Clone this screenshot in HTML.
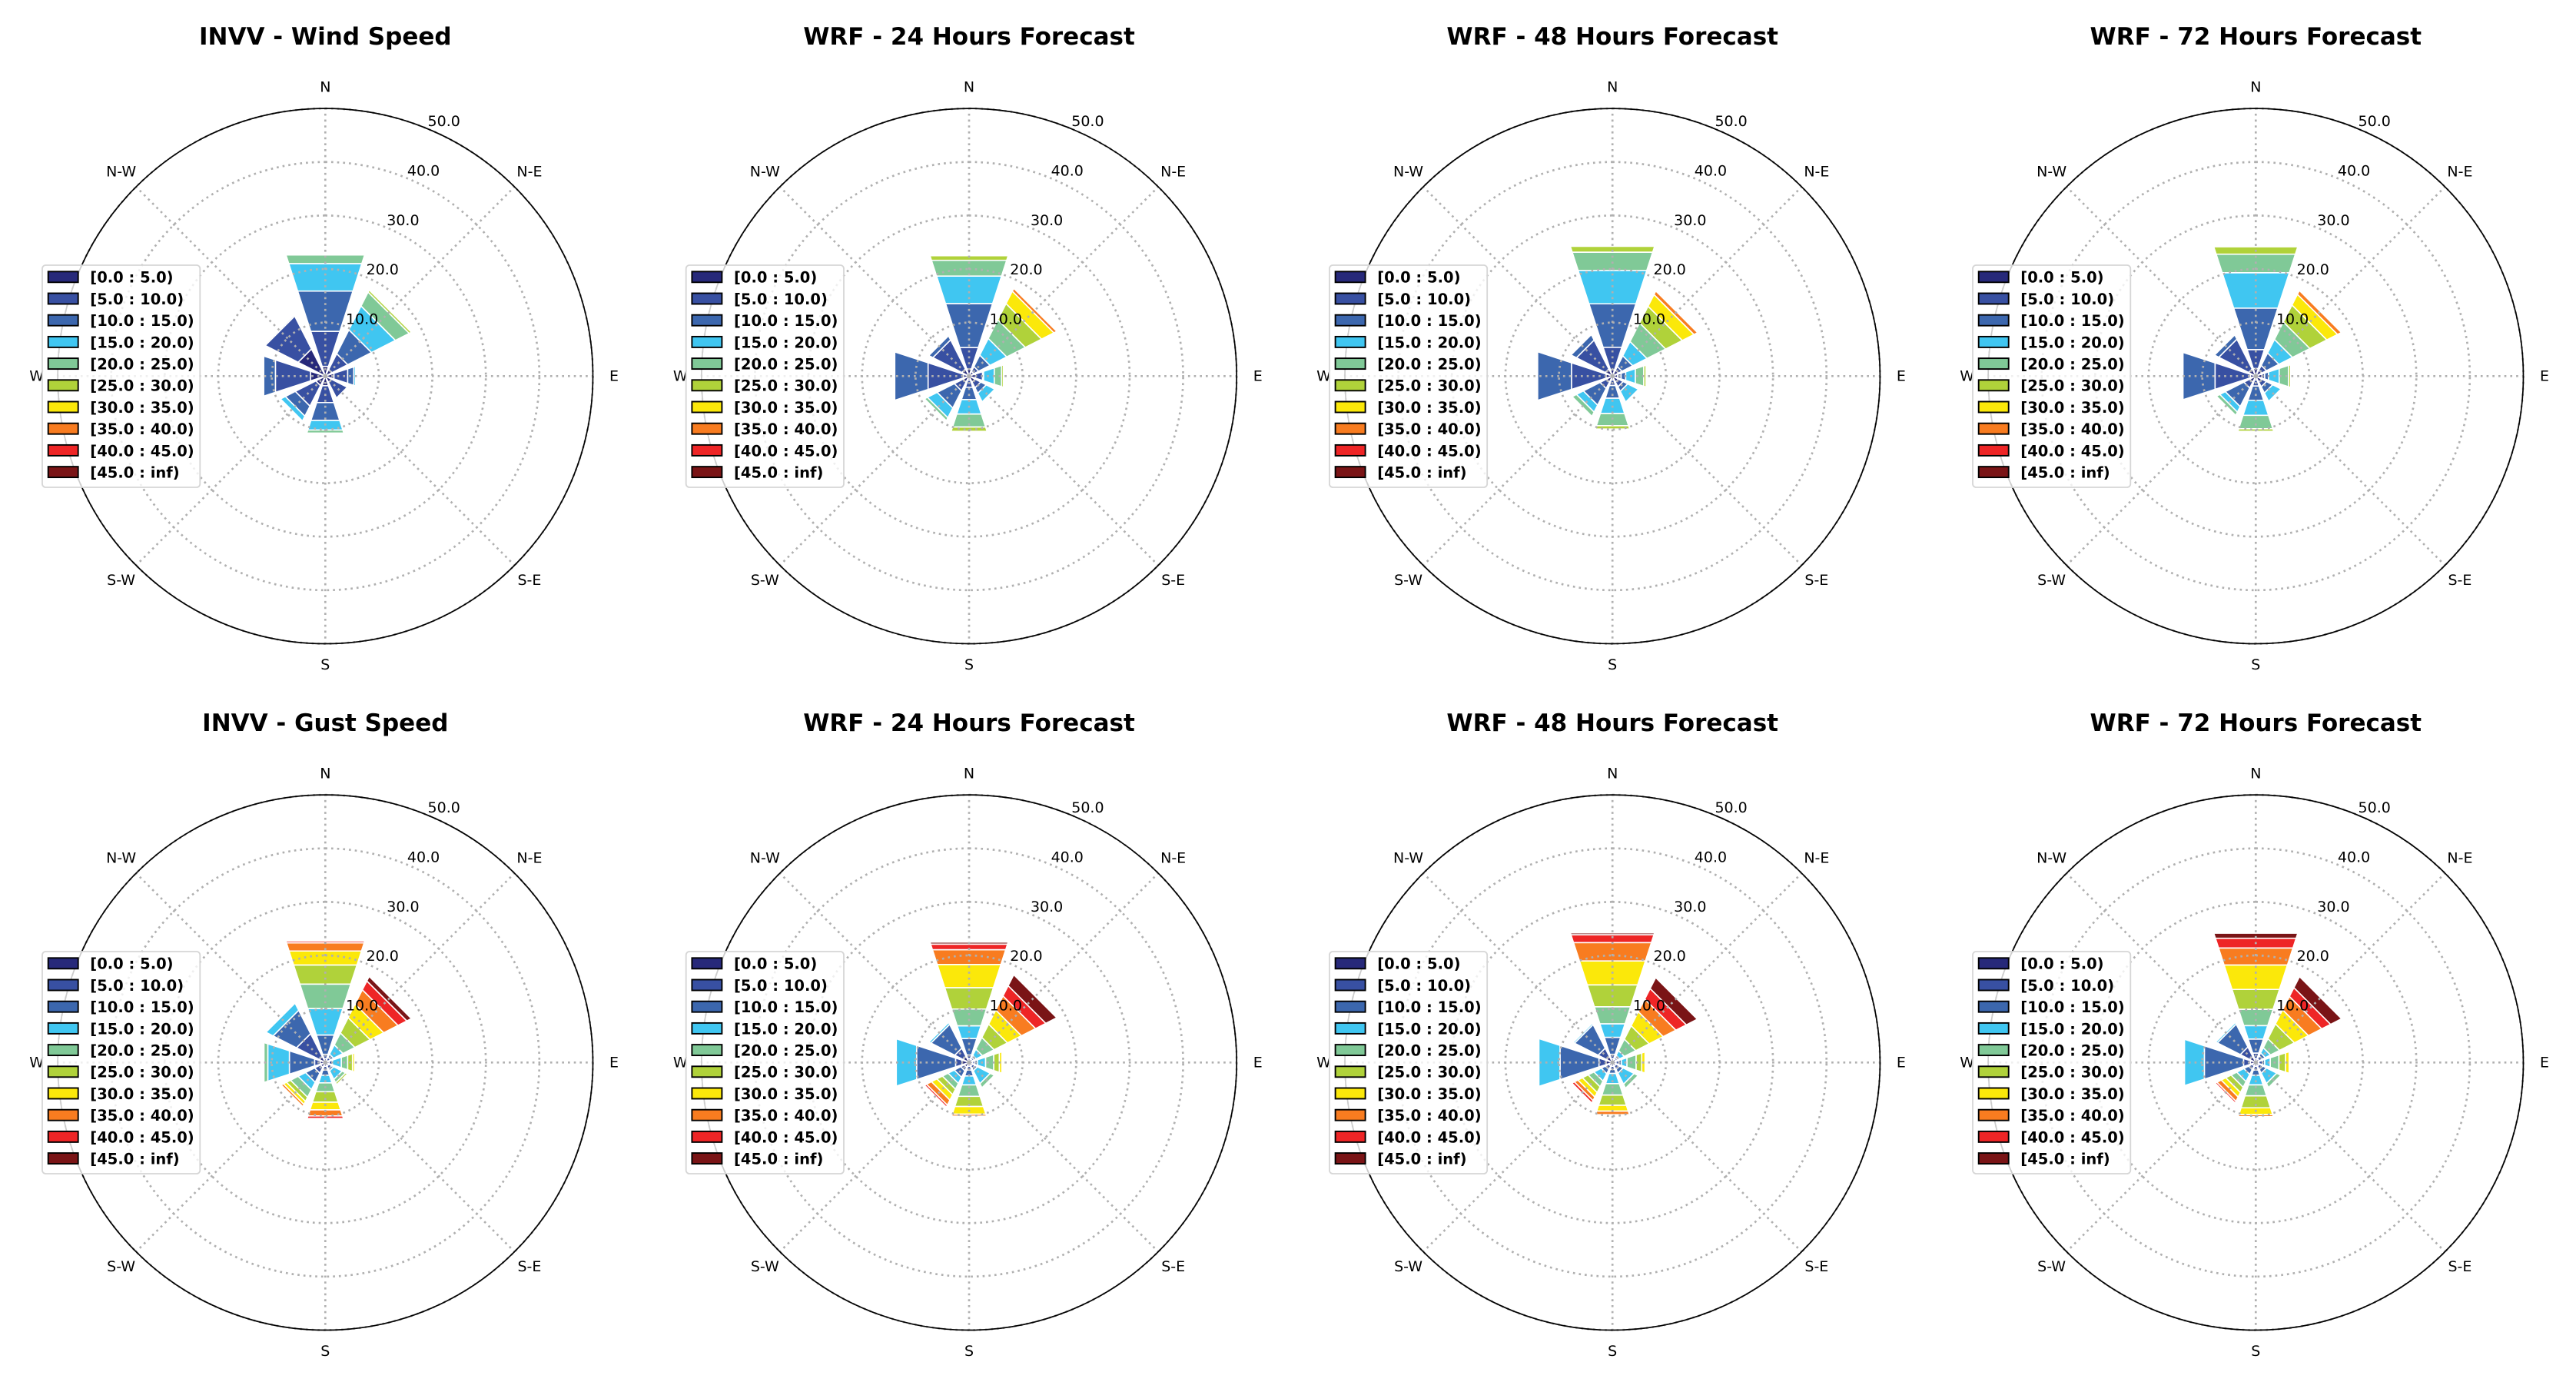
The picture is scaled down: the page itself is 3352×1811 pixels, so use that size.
<!DOCTYPE html>
<html lang="en">
<head>
<meta charset="utf-8">
<title>Wind roses</title>
<style>
html,body{margin:0;padding:0;background:#fff;}
#figure{position:absolute;left:0;top:0;display:block;}
text{font-family:"DejaVu Sans","Liberation Sans",sans-serif;fill:#000;}
</style>
</head>
<body>
<svg id="figure" xmlns="http://www.w3.org/2000/svg" width="3352" height="1811" viewBox="0 0 3352 1811">
<rect x="0" y="0" width="3352" height="1811" fill="#fff"></rect>
</svg>
<script>
// Categories
const directions = ['N','N-E','E','S-E','S','S-W','W','N-W'];
const speedBins = ['[0.0 : 5.0)','[5.0 : 10.0)','[10.0 : 15.0)','[15.0 : 20.0)','[20.0 : 25.0)','[25.0 : 30.0)','[30.0 : 35.0)','[35.0 : 40.0)','[40.0 : 45.0)','[45.0 : inf)'];
const binColors = ['#27297a','#3850a2','#3c67ae','#40c6f1','#80c997','#b0d23a','#fbe80a','#f87c20','#ee2526','#7a1416'];
const radialTicks = [10,20,30,40,50];
const panelTitles = ['INVV - Wind Speed','WRF - 24 Hours Forecast','WRF - 48 Hours Forecast','WRF - 72 Hours Forecast','INVV - Gust Speed','WRF - 24 Hours Forecast','WRF - 48 Hours Forecast','WRF - 72 Hours Forecast'];

// Frequency (%) per speed bin, one row per direction (N, N-E, E, S-E, S, S-W, W, N-W)
const invvWind = [
 [1.9,6.9,7.9,5.4,1.7,0.15],
 [1.4,3.3,5.0,5.0,2.9,0.45],
 [1.7,2.7,1.2,0.35],
 [1.3,3.3],
 [1.9,3.3,3.5,1.9,0.6],
 [2.0,4.3,2.1,1.0],
 [2.9,6.9,2.3],
 [5.7,6.9,0.25]
];
const wrf24Wind = [
 [1.4,4.2,8.65,5.4,3.1,0.9],
 [1.0,1.0,2.4,3.5,3.9,3.4,2.6,0.6],
 [1.25,1.4,0.2,2.1,1.45,0.35],
 [1.25,1.2,1.15,1.8],
 [0.8,1.4,2.4,2.85,2.55,0.85],
 [1.25,1.85,3.6,2.05,0.6],
 [1.1,6.95,6.55],
 [1.5,6.1,0.85]
];
const wrf48Wind = [
 [1.25,4.4,8.55,6.55,3.6,1.15],
 [1.25,0.75,2.25,3.0,3.9,3.5,2.45,0.75],
 [1.0,0.7,0.9,1.9,1.65,0.45],
 [1.25,1.0,0.95,2.25],
 [0.75,1.1,2.5,3.0,2.4,0.65],
 [1.25,1.35,3.5,1.45,0.9],
 [1.25,6.8,6.65],
 [1.5,6.05,1.15]
];
const wrf72Wind = [
 [1.5,3.7,8.15,6.95,3.65,1.45],
 [1.25,1.0,2.6,2.85,3.65,3.55,2.25,0.8],
 [1.2,0.55,0.75,2.1,1.85,0.4],
 [1.25,1.0,1.3,1.75],
 [0.75,1.2,2.8,2.95,2.65,0.5],
 [1.25,1.25,3.9,1.15,0.7],
 [1.05,6.95,6.3],
 [1.5,6.25,0.9]
];
const invvGust = [
 [0.75,0.85,3.8,5.2,4.8,3.75,2.75,1.6,0.35],
 [0.5,0.6,0.65,1.95,2.5,3.2,2.85,3.0,1.85,0.95],
 [0.75,0.65,0,1.75,1.25,0.95,0.4],
 [0.75,0.6,0.4,1.8,0.7,0.4],
 [0.75,0.75,1.0,1.5,1.75,2.05,1.5,1.2,0.5],
 [1.0,1.25,1.9,1.55,1.6,0.85,0.65,0.45],
 [1.0,1.1,4.95,4.25,0.75],
 [1.25,4.8,4.9,1.5]
];
const wrf24Gust = [
 [0.75,0.75,3.2,2.5,3.3,4.2,4.55,2.9,1.1,0.4],
 [0.75,0.35,0.4,1.3,2.45,2.8,2.95,2.95,2.15,2.3],
 [0.7,0.4,0.55,1.6,1.6,1.1,0.5],
 [0.75,0.5,0.5,2.7,0.85],
 [0.75,0.75,1.15,1.75,2.25,2.0,1.5,0.4],
 [1.0,0.75,1.35,1.3,1.2,1.15,1.15,1.05,0.4],
 [1.4,1.25,7.65,4.0],
 [1.25,1.75,5.0,0.4]
];
const wrf48Gust = [
 [0.75,0.85,3.35,2.65,3.35,4.3,4.7,3.6,1.55,0.35],
 [0.75,0.35,0.4,1.0,2.4,2.8,2.95,2.65,2.2,2.3],
 [0.7,0.55,0.5,1.1,1.8,1.1,0.65],
 [0.75,0.75,0.75,2.3,0.85],
 [0.75,0.6,0.8,2.0,2.25,2.0,1.15,0.7],
 [0.75,0.75,0.85,1.55,1.2,1.2,0.95,0.75,0.5],
 [1.25,1.4,7.65,4.15],
 [1.25,1.75,4.95,0.3]
];
const wrf72Gust = [
 [0.75,1.1,2.75,2.65,3.2,3.9,4.8,3.35,1.9,1.0],
 [0.75,0.65,0.6,1.1,1.9,3.1,2.95,2.8,1.85,2.3],
 [0.6,0.7,0.45,1.1,1.7,1.3,0.7],
 [0.75,0.75,0.75,2.15,0.85],
 [0.75,0.75,1.0,1.9,2.15,2.35,1.35,0.4],
 [0.75,0.75,1.0,1.5,1.2,1.1,0.95,0.9,0.35],
 [1.05,1.35,7.7,3.9],
 [1.25,2.0,4.8,0.35]
];
const panelSeries = [invvWind,wrf24Wind,wrf48Wind,wrf72Wind,invvGust,wrf24Gust,wrf48Gust,wrf72Gust];

// Layout
const SVG_NS = 'http://www.w3.org/2000/svg';
const figure = document.getElementById('figure');
const colCentres = [423.3,1261,2098.2,2935.3];
const rowCentres = [489.3,1382.3];
const outerRadius = 348.2;
const rMax = 50;
const barHalfAngle = 18;
const rScale = function(v){ return v / rMax * outerRadius; };
const angleScale = function(i){ return i * 360 / directions.length; };
const polar = function(cx,cy,r,deg){
  const a = deg * Math.PI / 180;
  return [cx + r * Math.sin(a), cy - r * Math.cos(a)];
};
const make = function(tag,parent){
  const el = document.createElementNS(SVG_NS,tag);
  parent.appendChild(el);
  return el;
};

panelTitles.forEach(function(title,p){
  const cx = colCentres[p % 4];
  const cy = rowCentres[Math.floor(p / 4)];
  const series = panelSeries[p];

  const g = make('g',figure);
  
  

  const titleEl = make('text',g);
  
  
  titleEl.setAttribute('x', cx);
  titleEl.setAttribute('y', cy - 431.3);
  titleEl.setAttribute('text-anchor', 'middle');
  titleEl.setAttribute('font-size', '31');
  titleEl.setAttribute('font-weight', 'bold');
  titleEl.textContent = title;

  // stacked bars
  series.forEach(function(bins,d){
    const theta = angleScale(d);
    let cum = 0;
    bins.forEach(function(val,b){
      if(val <= 0){ return; }
      const r1 = rScale(cum);
      cum += val;
      const r2 = rScale(cum);
      const pts = [polar(cx,cy,r1,theta-barHalfAngle),polar(cx,cy,r2,theta-barHalfAngle),polar(cx,cy,r2,theta+barHalfAngle),polar(cx,cy,r1,theta+barHalfAngle)];
      const bar = make('polygon',g);
      
      
      bar.setAttribute('points', pts.map(function(q){ return q[0].toFixed(2) + ',' + q[1].toFixed(2); }).join(' '));
      bar.setAttribute('fill', binColors[b]);
      bar.setAttribute('stroke', '#fff');
      bar.setAttribute('stroke-width', '1.6');
      bar.setAttribute('stroke-linejoin', 'miter');
    });
  });

  // grid rings
  radialTicks.forEach(function(t){
    const ring = make('circle',g);
    
    
    ring.setAttribute('cx', cx);
    ring.setAttribute('cy', cy);
    ring.setAttribute('r', rScale(t));
    ring.setAttribute('fill', 'none');
    ring.setAttribute('stroke', '#b0b0b0');
    ring.setAttribute('stroke-width', '2.67');
    ring.setAttribute('stroke-dasharray', '2.67 5.03');
    ring.setAttribute('transform', 'rotate(-90 ' + cx + ' ' + cy + ')');
  });

  // grid spokes
  directions.forEach(function(name,d){
    const end = polar(cx,cy,rScale(rMax),angleScale(d));
    const spoke = make('line',g);
    
    
    spoke.setAttribute('x1', cx);
    spoke.setAttribute('y1', cy);
    spoke.setAttribute('x2', end[0]);
    spoke.setAttribute('y2', end[1]);
    spoke.setAttribute('stroke', '#b0b0b0');
    spoke.setAttribute('stroke-width', '2.67');
    spoke.setAttribute('stroke-dasharray', '2.67 5.03');
  });

  // outer frame
  const frame = make('circle',g);
  
  
  frame.setAttribute('cx', cx);
  frame.setAttribute('cy', cy);
  frame.setAttribute('r', outerRadius);
  frame.setAttribute('fill', 'none');
  frame.setAttribute('stroke', '#000');
  frame.setAttribute('stroke-width', '1.7');

  // compass labels
  directions.forEach(function(name,d){
    const pos = polar(cx,cy,375.7,angleScale(d));
    const lab = make('text',g);
    
    
    lab.setAttribute('x', pos[0]);
    lab.setAttribute('y', pos[1] + 6);
    lab.setAttribute('text-anchor', 'middle');
    lab.setAttribute('font-size', '19');
    lab.textContent = name;
  });

  // radial tick labels
  radialTicks.forEach(function(t){
    const pos = polar(cx,cy,rScale(t),22.5);
    const lab = make('text',g);
    
    
    lab.setAttribute('x', pos[0]);
    lab.setAttribute('y', pos[1] - 3.5);
    lab.setAttribute('font-size', '19');
    lab.textContent = t.toFixed(1);
  });

  // legend
  const legend = make('g',g);
  
  
  const box = make('rect',legend);
  
  
  box.setAttribute('x', cx - 368.3);
  box.setAttribute('y', cy - 144.3);
  box.setAttribute('width', 205.3);
  box.setAttribute('height', 289);
  box.setAttribute('rx', 4.5);
  box.setAttribute('fill', 'rgba(255,255,255,0.8)');
  box.setAttribute('stroke', '#d6d6d6');
  box.setAttribute('stroke-width', '1.8');
  speedBins.forEach(function(label,b){
    const swatch = make('rect',legend);
    
    
    swatch.setAttribute('x', cx - 360.6);
    swatch.setAttribute('y', cy - 136 + b * 28.2);
    swatch.setAttribute('width', 39);
    swatch.setAttribute('height', 14);
    swatch.setAttribute('fill', binColors[b]);
    swatch.setAttribute('stroke', '#000');
    swatch.setAttribute('stroke-width', '1.9');
    const text = make('text',legend);
    
    
    text.setAttribute('x', cx - 306);
    text.setAttribute('y', cy - 121.6 + b * 28.2);
    text.setAttribute('font-size', '19.5');
    text.setAttribute('font-weight', 'bold');
    text.textContent = label;
  });
});
</script>
</body>
</html>
